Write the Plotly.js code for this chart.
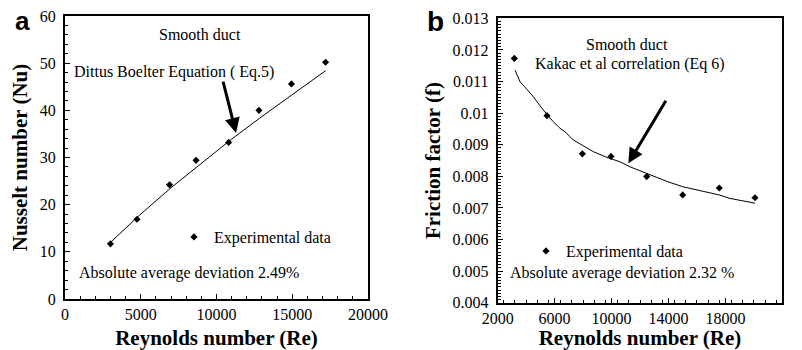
<!DOCTYPE html>
<html>
<head>
<meta charset="utf-8">
<script src="https://cdn.plot.ly/plotly-3.0.1.min.js"></script>
<style>html,body{margin:0;padding:0;background:#fff;}#chart{width:802px;height:350px;}</style>
</head>
<body>
<div id="chart"></div>
<script>
// ---- Panel a: Nusselt number vs Reynolds number ----
var reExpA = [3000, 4750, 6900, 8650, 10800, 12800, 14950, 17200];
var nuExpA = [11.7, 16.9, 24.2, 29.4, 33.2, 40.0, 45.6, 50.2];
var reCorrA = [3000, 5000, 7000, 9000, 11000, 13000, 15000, 17200];
var nuCorrA = [12.0, 18.0, 23.6, 28.8, 33.9, 38.7, 43.4, 48.4];

// ---- Panel b: Friction factor vs Reynolds number ----
var reExpB = [3170, 5460, 7950, 9960, 12470, 15000, 17570, 20080];
var fExpB = [0.01173, 0.00992, 0.00871, 0.00863, 0.00799, 0.00741, 0.00763, 0.00732];
var reCorrB = [3220, 3570, 3920, 4500, 5200, 5900, 6380, 6730, 7310, 8010, 8720, 9660, 10590, 11300, 12470, 13880, 15000, 16220, 17570, 18320, 19500, 20080];
var fCorrB = [0.01136, 0.01099, 0.01082, 0.01052, 0.01010, 0.00973, 0.00952, 0.00941, 0.00915, 0.00896, 0.00878, 0.00860, 0.00846, 0.00830, 0.00808, 0.00784, 0.00767, 0.00754, 0.00741, 0.00730, 0.00720, 0.00715];

var legendName = 'Experimental data';
var serif = 'Liberation Serif';
var sans = 'Liberation Sans';

var traces = [
  {x: reCorrA, y: nuCorrA, type: 'scatter', mode: 'lines', line: {color: '#000', width: 1}, showlegend: false, xaxis: 'x', yaxis: 'y', hoverinfo: 'skip'},
  {x: reExpA, y: nuExpA, type: 'scatter', mode: 'markers', name: legendName, marker: {symbol: 'diamond', size: 5.5, color: '#000'}, xaxis: 'x', yaxis: 'y', legend: 'legend'},
  {x: reCorrB, y: fCorrB, type: 'scatter', mode: 'lines', line: {color: '#000', width: 1}, showlegend: false, xaxis: 'x2', yaxis: 'y2', hoverinfo: 'skip'},
  {x: reExpB, y: fExpB, type: 'scatter', mode: 'markers', name: legendName, marker: {symbol: 'diamond', size: 5.5, color: '#000'}, xaxis: 'x2', yaxis: 'y2', legend: 'legend2'}
];

function axisBase() {
  return {
    showline: true, linewidth: 2, linecolor: '#000', mirror: true,
    showgrid: false, zeroline: false,
    ticks: 'inside', ticklen: 5, tickwidth: 1, tickcolor: '#000',
    tickfont: {family: serif, size: 16, color: '#000'},
    minor: {ticks: 'inside', ticklen: 3, tickwidth: 1, tickcolor: '#000', showgrid: false},
    fixedrange: true
  };
}
function titleObj(t, standoff) {
  return {text: t, font: {family: serif, size: 21, color: '#000', weight: 'bold'}, standoff: standoff};
}

var xa = Object.assign(axisBase(), {domain: [65/802, 368/802], range: [0, 20000], dtick: 5000, tick0: 0, tickformat: 'd', anchor: 'y', title: titleObj('Reynolds number (Re)', 8)});
xa.minor.dtick = 1000;
var ya = Object.assign(axisBase(), {domain: [1 - 299/350, 1 - 16/350], range: [0, 60], dtick: 10, tick0: 0, anchor: 'x', ticklabelstandoff: 4, title: titleObj('Nusselt number (Nu)', 6)});
ya.minor.dtick = 2;
var xb = Object.assign(axisBase(), {domain: [497.7/802, 782.3/802], range: [2000, 22000], dtick: 4000, tick0: 2000, tickformat: 'd', anchor: 'y2', title: titleObj('Reynolds number (Re)', 8)});
xb.minor.dtick = 800;
var yb = Object.assign(axisBase(), {domain: [1 - 302.7/350, 1 - 18.3/350], range: [0.004, 0.013], dtick: 0.001, tick0: 0.004, tickformat: '.3~f', anchor: 'x2', ticklabelstandoff: 4, title: titleObj('Friction factor (f)', 6)});
yb.minor.dtick = 0.0001;

function note(xref, yref, x, y, text) {
  return {xref: xref, yref: yref, x: x, y: y, text: text, showarrow: false, font: {family: serif, size: 16, color: '#000'}, xanchor: 'center', yanchor: 'middle'};
}
function arrow(xref, yref, x, y, ax, ay) {
  return {xref: xref, yref: yref, x: x, y: y, axref: xref, ayref: yref, ax: ax, ay: ay, text: '', showarrow: true, arrowhead: 2, arrowsize: 1, arrowwidth: 3, arrowcolor: '#000', standoff: 0};
}

var layout = {
  width: 802, height: 350,
  margin: {l: 0, r: 0, t: 0, b: 0},
  paper_bgcolor: '#fff', plot_bgcolor: '#fff',
  font: {family: serif, color: '#000'},
  xaxis: xa, yaxis: ya, xaxis2: xb, yaxis2: yb,
  legend: {x: 174/802, y: 1 - 237/350, xanchor: 'left', yanchor: 'middle', bgcolor: 'rgba(0,0,0,0)', borderwidth: 0, font: {family: serif, size: 16, color: '#000'}},
  legend2: {x: 526/802, y: 1 - 251/350, xanchor: 'left', yanchor: 'middle', bgcolor: 'rgba(0,0,0,0)', borderwidth: 0, font: {family: serif, size: 16, color: '#000'}},
  annotations: [
    note('x', 'y', 8900, 56.0, 'Smooth duct'),
    note('x', 'y', 7200, 48.2, 'Dittus Boelter Equation ( Eq.5)'),
    note('x', 'y', 8185, 5.6, 'Absolute average deviation 2.49%'),
    arrow('x', 'y', 11290, 35.2, 10410, 46.4),
    note('x2', 'y2', 11070, 0.01216, 'Smooth duct'),
    note('x2', 'y2', 11300, 0.01155, 'Kakac et al correlation (Eq 6)'),
    note('x2', 'y2', 10760, 0.00493, 'Absolute average deviation 2.32 %'),
    arrow('x2', 'y2', 11180, 0.00841, 13880, 0.01044),
    {xref: 'paper', yref: 'paper', x: 22/802, y: 1 - 21/350, text: 'a', showarrow: false, xanchor: 'center', yanchor: 'middle', font: {family: sans, size: 26, color: '#000', weight: 'bold'}},
    {xref: 'paper', yref: 'paper', x: 435/802, y: 1 - 22/350, text: 'b', showarrow: false, xanchor: 'center', yanchor: 'middle', font: {family: sans, size: 28, color: '#000', weight: 'bold'}}
  ]
};

Plotly.newPlot('chart', traces, layout, {staticPlot: true, displayModeBar: false});
</script>
</body>
</html>
